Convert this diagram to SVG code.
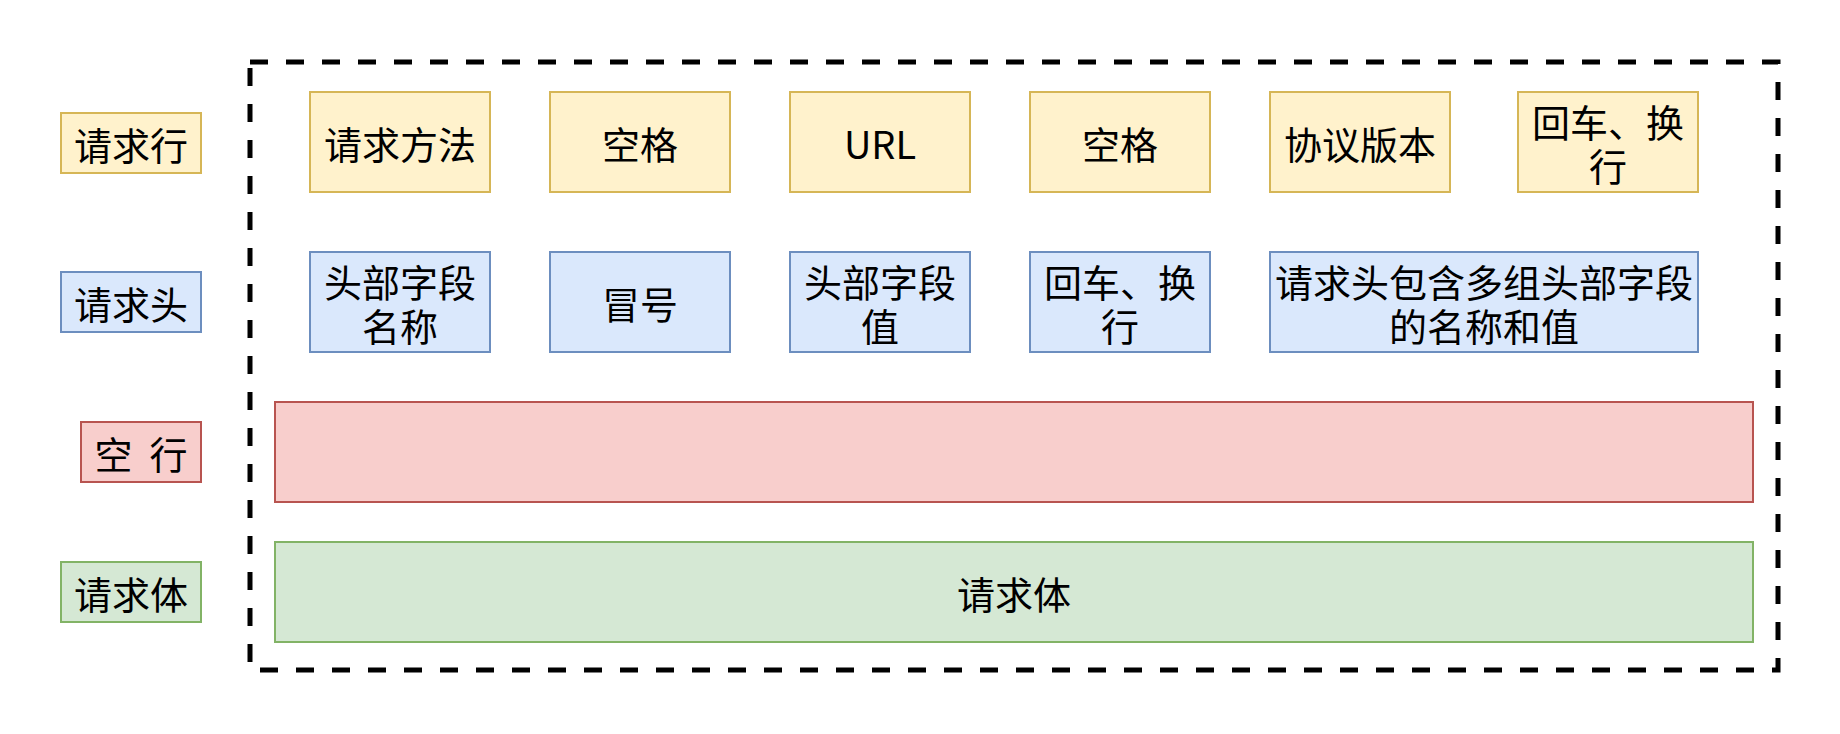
<svg xmlns="http://www.w3.org/2000/svg" width="1840" height="734" viewBox="0 0 1840 734">
<style>
text{font-family:"Noto Sans CJK SC","Noto Sans",sans-serif;font-size:38px;fill:#000;text-anchor:middle;dominant-baseline:central}
.y{fill:#fff2cc;stroke:#d6b656;stroke-width:2}
.b{fill:#dae8fc;stroke:#6c8ebf;stroke-width:2}
.r{fill:#f8cecc;stroke:#b85450;stroke-width:2}
.g{fill:#d5e8d4;stroke:#82b366;stroke-width:2}
</style>
<rect width="1840" height="734" fill="#fff"/>
<g id="frame"><rect x="250" y="62" width="1528" height="608" fill="none" stroke="#000" stroke-width="5" stroke-dasharray="18 18"/></g>
<g id="label-line"><rect class="y" x="61" y="113" width="140" height="60"/><text x="131" y="143">请求行</text></g>
<g id="label-head"><rect class="b" x="61" y="272" width="140" height="60"/><text x="131" y="302">请求头</text></g>
<g id="label-blank"><rect class="r" x="81" y="422" width="120" height="60"/><text x="141" y="452" xml:space="preserve">空  行</text></g>
<g id="label-body"><rect class="g" x="61" y="562" width="140" height="60"/><text x="131" y="592">请求体</text></g>
<g id="method"><rect class="y" x="310" y="92" width="180" height="100"/><text x="400" y="142">请求方法</text></g>
<g id="space1"><rect class="y" x="550" y="92" width="180" height="100"/><text x="640" y="142">空格</text></g>
<g id="url"><rect class="y" x="790" y="92" width="180" height="100"/><text x="880" y="142">URL</text></g>
<g id="space2"><rect class="y" x="1030" y="92" width="180" height="100"/><text x="1120" y="142">空格</text></g>
<g id="version"><rect class="y" x="1270" y="92" width="180" height="100"/><text x="1360" y="142">协议版本</text></g>
<g id="crlf1"><rect class="y" x="1518" y="92" width="180" height="100"/><text x="1608" y="120">回车、换<tspan x="1608" dy="44">行</tspan></text></g>
<g id="hname"><rect class="b" x="310" y="252" width="180" height="100"/><text x="400" y="280">头部字段<tspan x="400" dy="44">名称</tspan></text></g>
<g id="colon"><rect class="b" x="550" y="252" width="180" height="100"/><text x="640" y="302">冒号</text></g>
<g id="hvalue"><rect class="b" x="790" y="252" width="180" height="100"/><text x="880" y="280">头部字段<tspan x="880" dy="44">值</tspan></text></g>
<g id="crlf2"><rect class="b" x="1030" y="252" width="180" height="100"/><text x="1120" y="280">回车、换<tspan x="1120" dy="44">行</tspan></text></g>
<g id="hnote"><rect class="b" x="1270" y="252" width="428" height="100"/><text x="1484" y="280">请求头包含多组头部字段<tspan x="1484" dy="44">的名称和值</tspan></text></g>
<g id="blank"><rect class="r" x="275" y="402" width="1478" height="100"/></g>
<g id="body"><rect class="g" x="275" y="542" width="1478" height="100"/><text x="1014" y="592">请求体</text></g>
</svg>
